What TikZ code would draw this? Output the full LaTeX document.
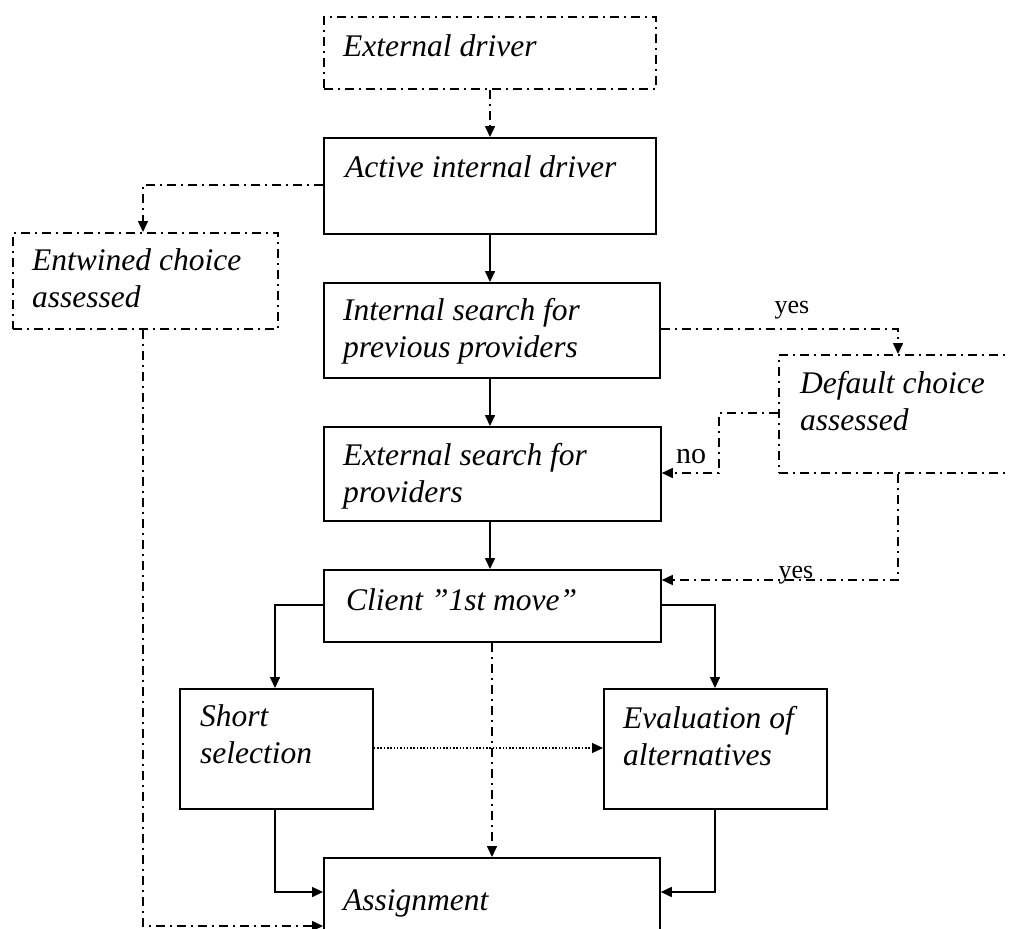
\documentclass[tikz,border=0pt]{standalone}
\usepackage{fontspec}
\setmainfont{Liberation Serif}
\usetikzlibrary{arrows.meta}
\tikzset{
  box/.style={draw, line width=1.8pt, inner sep=0pt, anchor=north west},
  dbox/.style={box, line width=1.6pt, dash pattern=on 9pt off 5pt on 2pt off 5pt},
  txt/.style={inner sep=0pt, anchor=base west, align=left, font=\fontsize{31.5}{37}\selectfont\itshape},
  lbl/.style={inner sep=0pt, font=\fontsize{26}{28}\selectfont},
  con/.style={line width=1.6pt, -{Triangle[length=11pt,width=10pt]}},
  dcon/.style={con, dash pattern=on 9pt off 5pt on 2pt off 5pt},
  dotcon/.style={line width=1.2pt, dash pattern=on 1.5pt off 1.8pt, -{Triangle[length=11pt,width=10pt]}}
}
\begin{document}
\begin{tikzpicture}[x=1pt,y=-1pt]
\clip (0,0) rectangle (1010,929);
% boxes
\node[dbox, minimum width=332pt, minimum height=72pt] (ext) at (323,16) {};
\node[box, minimum width=332pt, minimum height=96pt] (act) at (323,137) {};
\node[dbox, minimum width=265pt, minimum height=96pt] (ent) at (12,232) {};
\node[box, minimum width=336pt, minimum height=95pt] (int) at (323,282) {};
\node[box, minimum width=337pt, minimum height=94pt] (exs) at (323,426) {};
\node[dbox, minimum width=250pt, minimum height=118pt] (def) at (778,354) {};
\node[box, minimum width=337pt, minimum height=72pt] (cli) at (323,569) {};
\node[box, minimum width=193pt, minimum height=120pt] (sho) at (179,688) {};
\node[box, minimum width=223pt, minimum height=120pt] (eva) at (603,688) {};
\node[box, minimum width=336pt, minimum height=90pt] (asg) at (323,857) {};
% texts (multi-line nodes: base = last line)
\node[txt] (ext-t) at (343,56) {External driver};
\node[txt] (act-t) at (345,177) {Active internal driver};
\node[txt] (ent-t) at (32,307) {Entwined choice\\assessed};
\node[txt] (int-t) at (343,357) {Internal search for\\previous providers};
\node[txt] (exs-t) at (343,502) {External search for\\providers};
\node[txt] (def-t) at (800,430) {Default choice\\assessed};
\node[txt] (cli-t) at (346,610) {Client ”1st move”};
\node[txt] (sho-t) at (200,763) {Short\\selection};
\node[txt] (eva-t) at (623,765) {Evaluation of\\alternatives};
\node[txt] (asg-t) at (343,910) {Assignment};
% connectors
\draw[dcon] (ext.south -| 490,0) -- (act.north -| 490,0);
\draw[dcon] (act.west |- 0,185) -| (ent.north -| 143,0);
\draw[con] (act.south -| 490,0) -- (int.north -| 490,0);
\draw[dcon] (int.east |- 0,329) -| (def.north -| 898,0);
\node[lbl, anchor=base] (yes1) at (792,313) {yes};
\draw[con] (int.south -| 490,0) -- (exs.north -| 490,0);
\draw[dcon] (def.west |- 0,413) -- (719,413) -- (719,473) -- (exs.east |- 0,473);
\node[lbl, anchor=base, font=\fontsize{30}{32}\selectfont] (no) at (691,463) {no};
\draw[con] (exs.south -| 490,0) -- (cli.north -| 490,0);
\draw[dcon] (def.south -| 898,0) |- (cli.east |- 0,580);
\node[lbl, anchor=base] (yes2) at (796,578) {yes};
\draw[con] (cli.west |- 0,605) -| (sho.north -| 275,0);
\draw[con] (cli.east |- 0,605) -| (eva.north -| 715,0);
\draw[dotcon] (sho.east |- 0,748) -- (eva.west |- 0,748);
\draw[dcon] (cli.south -| 492,0) -- (asg.north -| 492,0);
\draw[con] (sho.south -| 275,0) |- (asg.west |- 0,892);
\draw[con] (eva.south -| 715,0) |- (asg.east |- 0,892);
\draw[dcon] (ent.south -| 143,0) |- (asg.west |- 0,926);
\end{tikzpicture}
\end{document}
